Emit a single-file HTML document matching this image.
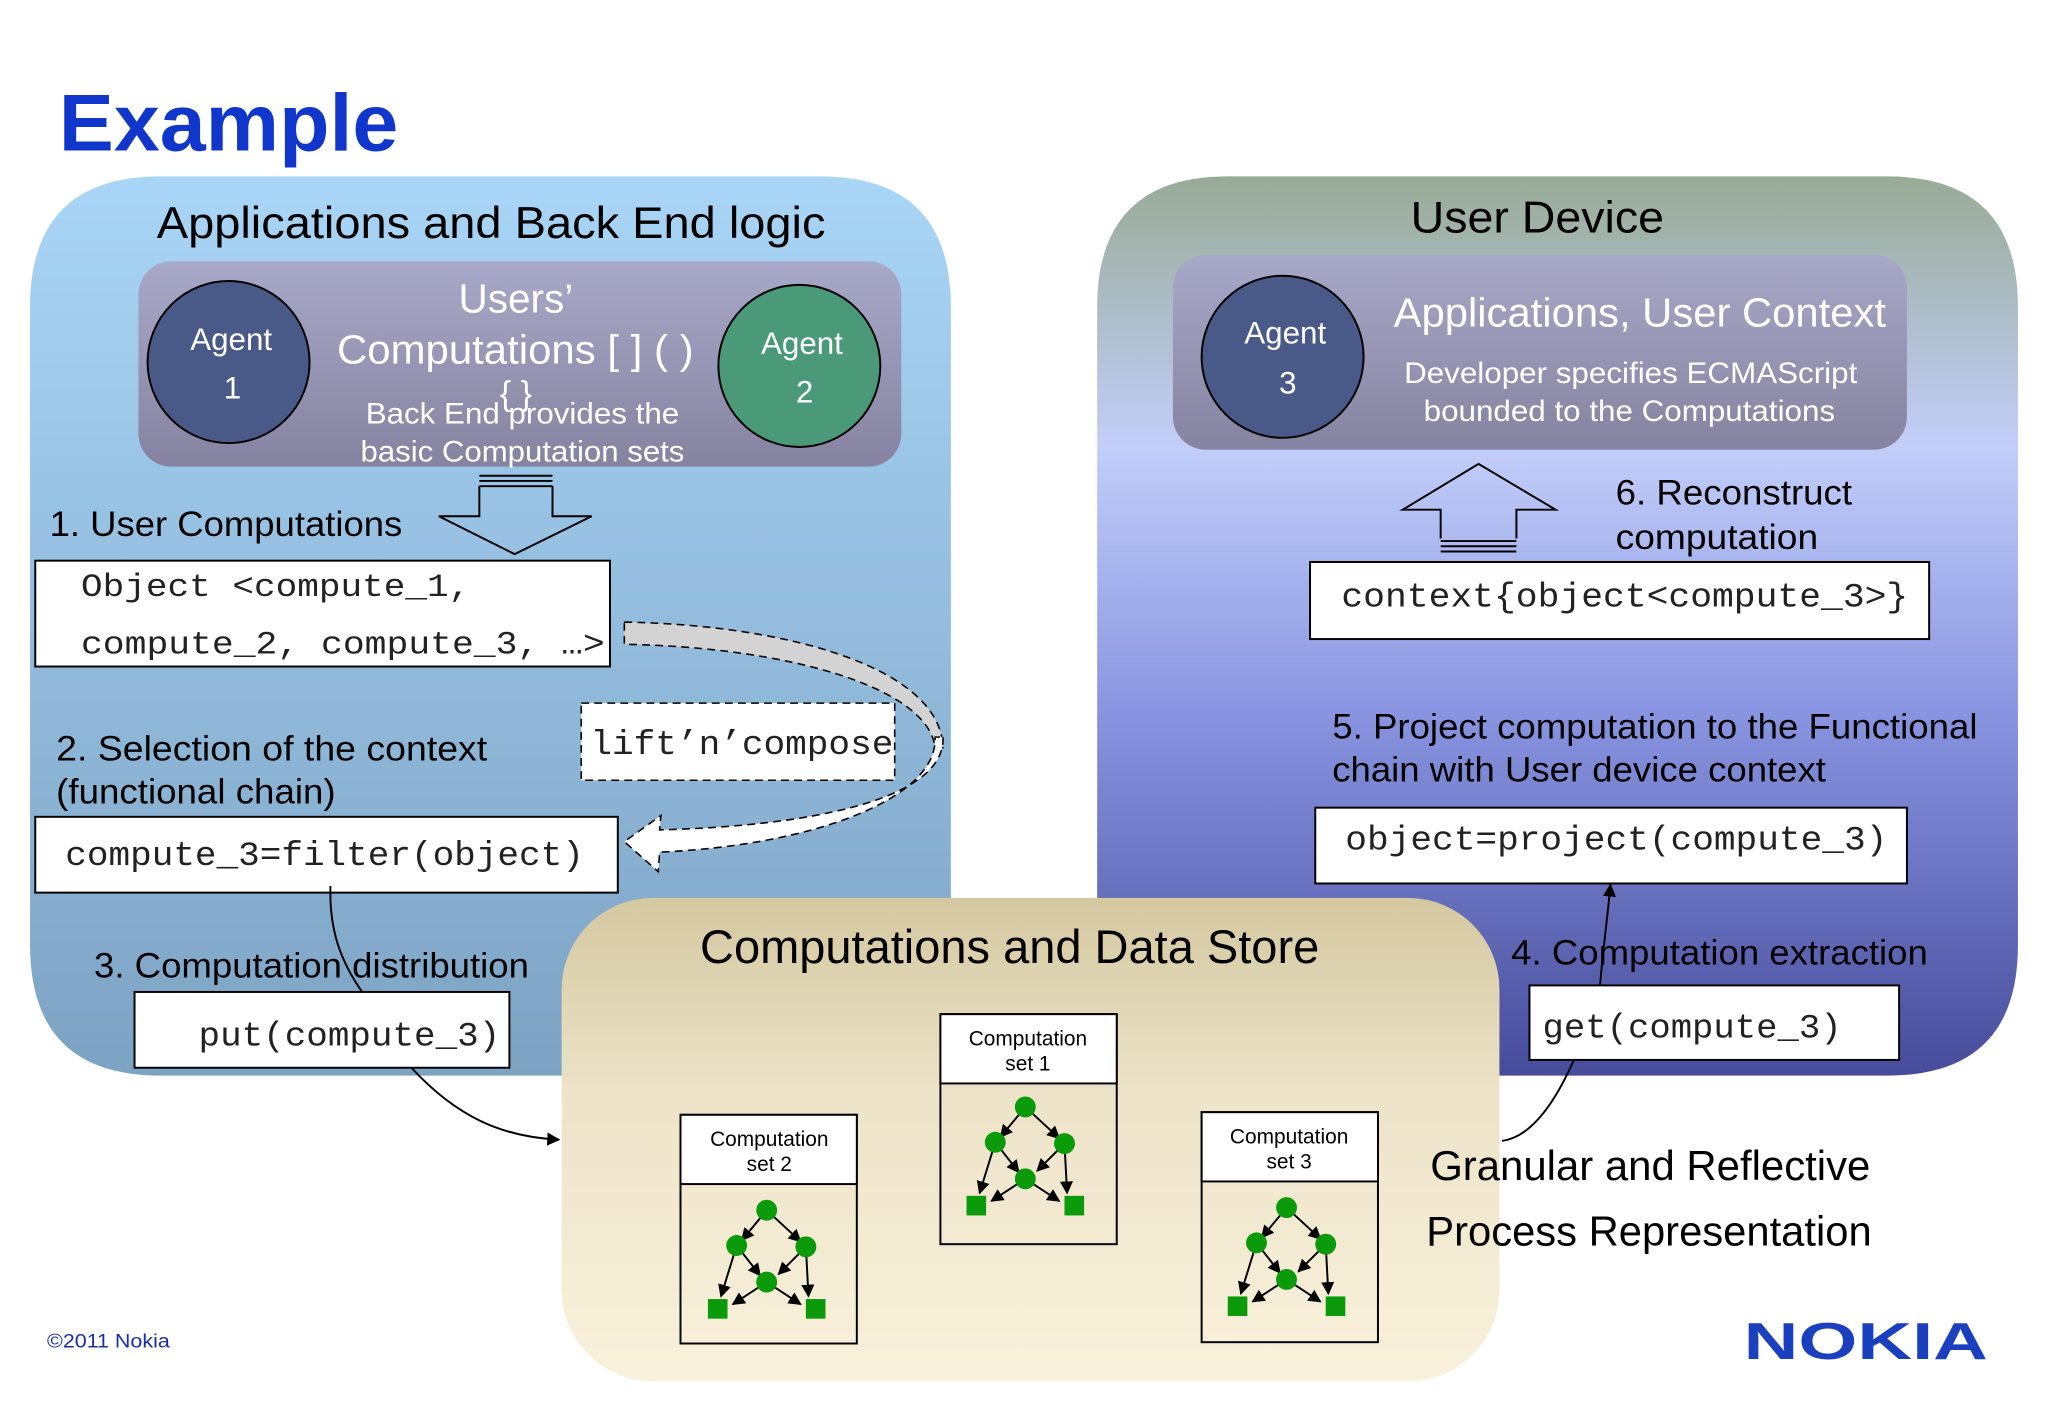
<!DOCTYPE html>
<html><head><meta charset="utf-8"><style>
html,body{margin:0;padding:0;background:#fff;}
svg{display:block;}
text{font-family:"Liberation Sans",sans-serif;}
.m{font-family:"Liberation Mono",monospace;}
</style></head><body>
<svg width="2048" height="1418" viewBox="0 0 1568 1085" preserveAspectRatio="none" xmlns="http://www.w3.org/2000/svg">
<defs>
<linearGradient id="gl" x1="0" y1="0" x2="0" y2="1"><stop offset="0" stop-color="#a9d5f7"/><stop offset="1" stop-color="#7da3c3"/></linearGradient>
<linearGradient id="gr" x1="0" y1="0" x2="0" y2="1"><stop offset="0" stop-color="#98ab96"/><stop offset="0.3" stop-color="#c2cef9"/><stop offset="0.6" stop-color="#8894e0"/><stop offset="1" stop-color="#464c9a"/></linearGradient>
<linearGradient id="gb" x1="0" y1="0" x2="0" y2="1"><stop offset="0" stop-color="#d4c8a0"/><stop offset="0.4" stop-color="#ece3c8"/><stop offset="1" stop-color="#faf1dc"/></linearGradient>
<linearGradient id="gi" x1="0" y1="0" x2="0" y2="1"><stop offset="0" stop-color="#a8a8c8"/><stop offset="1" stop-color="#85839f"/></linearGradient>
<marker id="ah" markerWidth="10" markerHeight="10" refX="9" refY="5" orient="auto" markerUnits="userSpaceOnUse"><path d="M0,0 L10,5 L0,10 Z" fill="#000"/></marker>
<g id="graph">
<line x1="0" y1="0" x2="-19" y2="23" stroke="#000" stroke-width="1.5" marker-end="url(#ah)"/>
<line x1="0" y1="0" x2="26" y2="24" stroke="#000" stroke-width="1.5" marker-end="url(#ah)"/>
<line x1="-23" y1="27" x2="-35" y2="66" stroke="#000" stroke-width="1.5" marker-end="url(#ah)"/>
<line x1="-23" y1="27" x2="-5" y2="50" stroke="#000" stroke-width="1.5" marker-end="url(#ah)"/>
<line x1="30" y1="28" x2="9" y2="49" stroke="#000" stroke-width="1.5" marker-end="url(#ah)"/>
<line x1="30" y1="28" x2="32" y2="66" stroke="#000" stroke-width="1.5" marker-end="url(#ah)"/>
<line x1="0" y1="55" x2="-26" y2="72" stroke="#000" stroke-width="1.5" marker-end="url(#ah)"/>
<line x1="0" y1="55" x2="26" y2="72" stroke="#000" stroke-width="1.5" marker-end="url(#ah)"/>
<ellipse cx="0" cy="0" rx="8" ry="8" fill="#0a9a0a"/>
<ellipse cx="-23" cy="27" rx="8" ry="8" fill="#0a9a0a"/>
<ellipse cx="30" cy="28" rx="8" ry="8" fill="#0a9a0a"/>
<ellipse cx="0" cy="55" rx="8" ry="8" fill="#0a9a0a"/>
<rect x="-45" y="68" width="15" height="15" fill="#0a9a0a"/>
<rect x="30" y="68" width="15" height="15" fill="#0a9a0a"/>
</g>
</defs>

<text x="45" y="115" font-size="62" font-weight="bold" fill="#1136cc" textLength="260" lengthAdjust="spacingAndGlyphs">Example</text>

<path d="M123,135 H628 Q728,135 728,235 V823 H123 Q23,823 23,723 V235 Q23,135 123,135 Z" fill="url(#gl)"/>
<path d="M940,135 H1445 Q1545,135 1545,235 V723 Q1545,823 1445,823 H840 V235 Q840,135 940,135 Z" fill="url(#gr)"/>
<rect x="430" y="687" width="718" height="370" rx="70" fill="url(#gb)"/>

<text x="120" y="182" font-size="34" textLength="512" lengthAdjust="spacingAndGlyphs">Applications and Back End logic</text>
<rect x="106" y="200" width="584" height="157" rx="25" fill="url(#gi)"/>
<circle cx="175" cy="277" r="62" fill="#4a5a88" stroke="#000" stroke-width="1.5"/>
<text x="177" y="268" font-size="24" fill="#fff" text-anchor="middle">Agent</text>
<text x="178" y="305" font-size="24" fill="#fff" text-anchor="middle">1</text>
<circle cx="612" cy="280" r="62" fill="#4a9a7a" stroke="#000" stroke-width="1.5"/>
<text x="614" y="271" font-size="24" fill="#fff" text-anchor="middle">Agent</text>
<text x="616" y="308" font-size="24" fill="#fff" text-anchor="middle">2</text>
<text x="395" y="239" font-size="31" fill="#fff" text-anchor="middle">Users’</text>
<text x="258" y="278" font-size="31" fill="#fff" textLength="273" lengthAdjust="spacingAndGlyphs">Computations [ ] ( )</text>
<text x="395" y="310" font-size="26" fill="#fff" text-anchor="middle">{ }</text>
<text x="280" y="324" font-size="23" fill="#fff" textLength="240" lengthAdjust="spacingAndGlyphs">Back End provides the</text>
<text x="276" y="353" font-size="23" fill="#fff" textLength="248" lengthAdjust="spacingAndGlyphs">basic Computation sets</text>

<path d="M367,372 V395 H336 L394,424 L453,395 H423 V372" fill="none" stroke="#000" stroke-width="1.5"/>
<line x1="367" y1="364" x2="423" y2="364" stroke="#000" stroke-width="1.5"/>
<line x1="367" y1="368" x2="423" y2="368" stroke="#000" stroke-width="1.5"/>
<line x1="367" y1="372" x2="423" y2="372" stroke="#000" stroke-width="1.5"/>

<text x="38" y="410" font-size="27" textLength="270" lengthAdjust="spacingAndGlyphs">1. User Computations</text>
<rect x="27" y="429" width="440" height="81" fill="#fff" stroke="#000" stroke-width="1.5"/>
<text class="m" x="62" y="456" font-size="25" fill="#222" textLength="298" lengthAdjust="spacingAndGlyphs">Object &lt;compute_1,</text>
<text class="m" x="62" y="500" font-size="25" fill="#222" textLength="401" lengthAdjust="spacingAndGlyphs">compute_2, compute_3, …&gt;</text>

<path d="M478,476 C600,478 720,510 722,572 L716,572 C710,525 600,495 478,493 Z" fill="#d3d3d3" stroke="#000" stroke-width="1.2" stroke-dasharray="6,4"/>
<path d="M722,572 C724,620 620,640 505,643 L506,632 L478,652 L504,675 L505,660 C620,655 718,620 716,572 Z" fill="#fff" stroke="#000" stroke-width="1.2" stroke-dasharray="6,4" transform="translate(0,-8)"/>

<rect x="445" y="538" width="240" height="59" fill="#fff" stroke="#000" stroke-width="1.2" stroke-dasharray="6,4"/>
<text class="m" x="452" y="577" font-size="26" fill="#222" textLength="232" lengthAdjust="spacingAndGlyphs">lift’n’compose</text>

<text x="43" y="582" font-size="27" textLength="330" lengthAdjust="spacingAndGlyphs">2. Selection of the  context</text>
<text x="43" y="615" font-size="27" textLength="214" lengthAdjust="spacingAndGlyphs">(functional chain)</text>
<rect x="27" y="625" width="446" height="58" fill="#fff" stroke="#000" stroke-width="1.5"/>
<text class="m" x="50" y="662" font-size="26" fill="#222" textLength="397" lengthAdjust="spacingAndGlyphs">compute_3=filter(object)</text>

<text x="72" y="748" font-size="27" textLength="333" lengthAdjust="spacingAndGlyphs">3. Computation distribution</text>
<path d="M253,678 C252,710 260,735 278,760" fill="none" stroke="#000" stroke-width="1.5"/>
<rect x="103" y="759" width="287" height="58" fill="#fff" stroke="#000" stroke-width="1.5"/>
<text class="m" x="152" y="800" font-size="26" fill="#222" textLength="231" lengthAdjust="spacingAndGlyphs">put(compute_3)</text>
<path d="M315,817 C350,855 385,870 428,872" fill="none" stroke="#000" stroke-width="1.5" marker-end="url(#ah)"/>

<text x="1080" y="178" font-size="34" textLength="194" lengthAdjust="spacingAndGlyphs">User Device</text>
<rect x="898" y="195" width="562" height="149" rx="25" fill="url(#gi)"/>
<circle cx="982" cy="273" r="62" fill="#4a5a88" stroke="#000" stroke-width="1.5"/>
<text x="984" y="263" font-size="24" fill="#fff" text-anchor="middle">Agent</text>
<text x="986" y="301" font-size="24" fill="#fff" text-anchor="middle">3</text>
<text x="1067" y="250" font-size="31" fill="#fff" textLength="377" lengthAdjust="spacingAndGlyphs">Applications, User Context</text>
<text x="1075" y="293" font-size="23" fill="#fff" textLength="347" lengthAdjust="spacingAndGlyphs">Developer specifies ECMAScript</text>
<text x="1090" y="322" font-size="23" fill="#fff" textLength="315" lengthAdjust="spacingAndGlyphs">bounded to the Computations</text>

<path d="M1103,412 V390 H1074 L1132,355 L1191,390 H1161 V412" fill="none" stroke="#000" stroke-width="1.5"/>
<line x1="1103" y1="414" x2="1161" y2="414" stroke="#000" stroke-width="1.5"/>
<line x1="1103" y1="418" x2="1161" y2="418" stroke="#000" stroke-width="1.5"/>
<line x1="1103" y1="422" x2="1161" y2="422" stroke="#000" stroke-width="1.5"/>
<text x="1237" y="386" font-size="27" textLength="181" lengthAdjust="spacingAndGlyphs">6. Reconstruct</text>
<text x="1237" y="420" font-size="27" textLength="155" lengthAdjust="spacingAndGlyphs">computation</text>
<rect x="1003" y="430" width="474" height="59" fill="#fff" stroke="#000" stroke-width="1.5"/>
<text class="m" x="1027" y="464" font-size="26" fill="#222" textLength="434" lengthAdjust="spacingAndGlyphs">context{object&lt;compute_3&gt;}</text>

<text x="1020" y="565" font-size="27" textLength="494" lengthAdjust="spacingAndGlyphs">5. Project computation to the Functional</text>
<text x="1020" y="598" font-size="27" textLength="378" lengthAdjust="spacingAndGlyphs">chain with User device context</text>
<rect x="1007" y="618" width="453" height="58" fill="#fff" stroke="#000" stroke-width="1.5"/>
<text class="m" x="1030" y="650" font-size="26" fill="#222" textLength="415" lengthAdjust="spacingAndGlyphs">object=project(compute_3)</text>

<text x="1157" y="738" font-size="27" textLength="319" lengthAdjust="spacingAndGlyphs">4. Computation extraction</text>
<path d="M1225,754 C1228,720 1231,700 1233,677" fill="none" stroke="#000" stroke-width="1.5" marker-end="url(#ah)"/>
<rect x="1171" y="754" width="283" height="57" fill="#fff" stroke="#000" stroke-width="1.5"/>
<text class="m" x="1181" y="794" font-size="26" fill="#222" textLength="229" lengthAdjust="spacingAndGlyphs">get(compute_3)</text>
<path d="M1205,811 C1190,845 1172,870 1150,873" fill="none" stroke="#000" stroke-width="1.5"/>

<text x="773" y="737" font-size="36" text-anchor="middle">Computations and Data Store</text>
<rect x="720" y="776" width="135" height="176" fill="none" stroke="#000" stroke-width="1.5"/>
<rect x="720" y="776" width="135" height="53" fill="#fff" stroke="#000" stroke-width="1.5"/>
<text x="787" y="800" font-size="16" text-anchor="middle">Computation</text>
<text x="787" y="819" font-size="16" text-anchor="middle">set 1</text>
<use href="#graph" x="785" y="847"/>

<rect x="521" y="853" width="135" height="175" fill="none" stroke="#000" stroke-width="1.5"/>
<rect x="521" y="853" width="135" height="53" fill="#fff" stroke="#000" stroke-width="1.5"/>
<text x="589" y="877" font-size="16" text-anchor="middle">Computation</text>
<text x="589" y="896" font-size="16" text-anchor="middle">set 2</text>
<use href="#graph" x="587" y="926"/>

<rect x="920" y="851" width="135" height="176" fill="none" stroke="#000" stroke-width="1.5"/>
<rect x="920" y="851" width="135" height="53" fill="#fff" stroke="#000" stroke-width="1.5"/>
<text x="987" y="875" font-size="16" text-anchor="middle">Computation</text>
<text x="987" y="894" font-size="16" text-anchor="middle">set 3</text>
<use href="#graph" x="985" y="924"/>

<text x="1095" y="903" font-size="32" textLength="337" lengthAdjust="spacingAndGlyphs">Granular and Reflective</text>
<text x="1092" y="953" font-size="32" textLength="341" lengthAdjust="spacingAndGlyphs">Process Representation</text>

<text x="36" y="1031" font-size="15" fill="#1a2fa0" textLength="94" lengthAdjust="spacingAndGlyphs">©2011 Nokia</text>
<text x="1335" y="1040" font-size="40" font-weight="bold" fill="#1a3fbf" textLength="187" lengthAdjust="spacingAndGlyphs">NOKIA</text>
</svg>
</body></html>
